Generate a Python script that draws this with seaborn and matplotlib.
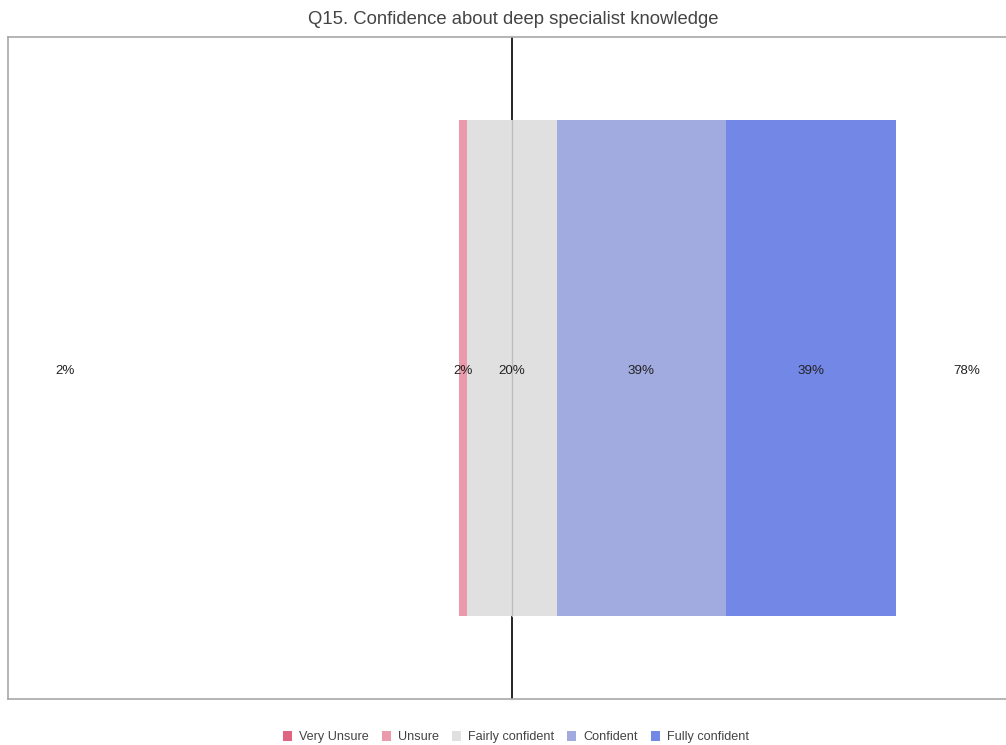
import matplotlib
matplotlib.use("Agg")
import matplotlib.pyplot as plt
import seaborn as sns
import pandas as pd
from matplotlib.patches import Patch

title = "Q15. Confidence about deep specialist knowledge"
categories = ["Very Unsure", "Unsure", "Fairly confident", "Confident", "Fully confident"]
percents = [0, 2.04, 20.41, 38.78, 38.78]
colors = ["#e06482", "#ea9aaa", "#e0e0e0", "#a1abe0", "#7387e6"]
neg_total_label = "2%"
pos_total_label = "78%"

sns.set_theme(style="white")
plt.rcParams["font.family"] = ["Liberation Sans", "DejaVu Sans"]

# diverging layout: neutral split across zero
half = percents[2] / 2
neg_ends = [-(half + percents[1] + percents[0]), -(half + percents[1]), -half]
pos_ends = [half + percents[3] + percents[4], half + percents[3], half]

fig = plt.figure(figsize=(10.06, 7.45), dpi=100)
ax = fig.add_axes([0.008, 0.0617, 0.992, 0.8886])

ax.axvline(0, color="black", lw=1.2, zorder=0)

row = ["Q15"]
# draw outer ends first so inner segments overlay them
draw = [(pos_ends[0], colors[4]), (pos_ends[1], colors[3]), (pos_ends[2], colors[2]),
        (neg_ends[0], colors[0]), (neg_ends[1], colors[1]), (neg_ends[2], colors[2])]
for val, col in draw:
    df = pd.DataFrame({"cat": row, "val": [val]})
    sns.barplot(data=df, x="val", y="cat", orient="h", color=col, width=0.75,
                saturation=1, ax=ax, zorder=2, linewidth=0)

ax.plot([0, 0], [-0.375, 0.375], color="#bdbdbd", lw=1, zorder=3)

# segment labels
centers = [neg_ends[0] + percents[0] / 2,
           -half - percents[1] / 2,
           0,
           half + percents[3] / 2,
           half + percents[3] + percents[4] / 2]
for p, cx in zip(percents, centers):
    if p == 0:
        continue
    ax.text(cx, 0.005, f"{round(p)}%", ha="center", va="center", fontsize=9.6, color="#222222", zorder=4)

ax.text(-102.3, 0.005, neg_total_label, ha="center", va="center", fontsize=9.6, color="#222222")
ax.text(104.1, 0.005, pos_total_label, ha="center", va="center", fontsize=9.6, color="#222222")

ax.set_xlim(-115.3, 113)
ax.set_ylim(0.5, -0.5)
ax.set_xticks([])
ax.set_yticks([])
ax.set_xlabel("")
ax.set_ylabel("")
for s in ["left", "top", "bottom"]:
    ax.spines[s].set_color("#a8a8a8")
    ax.spines[s].set_linewidth(1.2)
ax.spines["right"].set_visible(False)

fig.text(0.51, 0.974, title, ha="center", va="center", fontsize=13.3, color="#444444")

handles = [Patch(facecolor=c, edgecolor="none", label=l) for c, l in zip(colors, categories)]
fig.legend(handles=handles, loc="center", bbox_to_anchor=(0.513, 0.011), ncol=5,
           frameon=False, fontsize=9.1, handlelength=0.7, handleheight=0.9,
           handletextpad=0.6, columnspacing=1.0, labelcolor="#444444")

fig.savefig("out.png", dpi=100)
